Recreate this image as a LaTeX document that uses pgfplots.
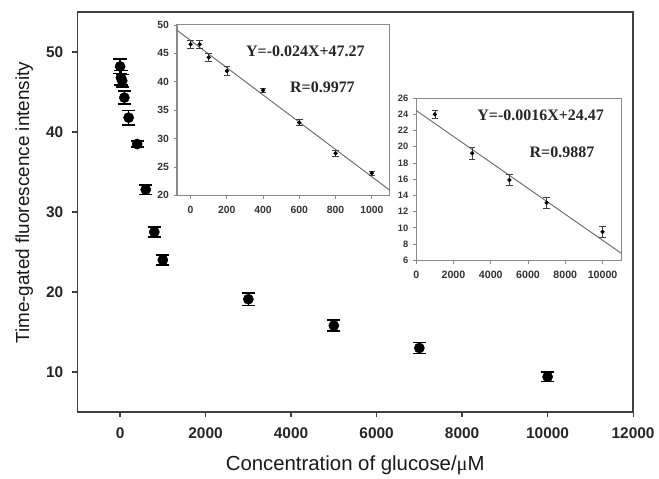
\documentclass[border=0pt]{standalone}
\usepackage{pgfplots}
\pgfplotsset{compat=1.18}
\usepackage{fontspec}
\setmainfont{Liberation Sans}
\newfontfamily\serif{Liberation Serif}
\definecolor{frame}{HTML}{404040}
\definecolor{iframe}{HTML}{8A8A8A}
\definecolor{fitline}{HTML}{6A6A6A}

\begin{document}
\begin{tikzpicture}[x=1pt,y=1pt]
\path (0,0) rectangle (494.25,354.75);
% main axis
\begin{axis}[at={(58.1pt,45.2pt)}, anchor=south west,
  width=417.6pt, height=300.5pt, scale only axis,
  xmin=-1000, xmax=12000, ymin=5, ymax=55,
  xtick={0,2000,...,12000}, ytick={10,20,...,50},
  scaled x ticks=false, scaled y ticks=false,
  /pgf/number format/1000 sep={}, /pgf/number format/assume math mode=true,
  tick pos=left, tick align=outside, major tick length=4pt,
  axis line style={frame, line width=1.1pt},
  major tick style={frame, line width=0.9pt},
  ticklabel style={font=\bfseries\fontsize{11.6}{13}\selectfont, text=black!85},
  xticklabel style={yshift=-4pt},
  yticklabel style={xshift=-3pt},
  xlabel={Concentration of glucose/{\serif μ}M},
  ylabel={Time-gated fluorescence intensity},
  label style={font=\fontsize{14.2}{16}\selectfont, text=black!90},
  xlabel style={yshift=-6pt, font=\fontsize{15.3}{17}\selectfont},
  ylabel style={yshift=3pt, xshift=7pt},
]
\addplot[only marks, mark=*, mark size=3.8pt, black,
  error bars/.cd, y dir=both, y explicit,
  error bar style={line width=1.2pt, black},
  error mark options={rotate=90, line width=1.2pt, mark size=5pt, black}]
  table[x=x, y=y, y error=e] {
x y e
0 48.2 0.9
20 46.8 0.9
50 46.4 0.8
100 44.3 0.8
200 41.8 0.9
400 38.5 0.35
600 32.8 0.6
800 27.5 0.6
1000 24.0 0.6
3000 19.1 0.8
5000 15.8 0.7
7000 13.0 0.7
10000 9.4 0.6
};
\end{axis}
% inset 1
\begin{axis}[at={(133pt,208pt)}, anchor=south west,
  width=160pt, height=128pt, scale only axis,
  xmin=-75, xmax=1100, ymin=20, ymax=50,
  xtick={0,200,...,1000}, ytick={20,25,...,50},
  scaled x ticks=false,
  /pgf/number format/1000 sep={}, /pgf/number format/assume math mode=true,
  axis background/.style={fill=white},
  tick pos=left, tick align=outside, major tick length=2.5pt,
  axis line style={iframe, line width=0.8pt},
  major tick style={iframe, line width=0.6pt},
  ticklabel style={font=\bfseries\fontsize{7.8}{9}\selectfont, text=black!80},
  xticklabel style={yshift=-2pt},
]
\addplot[fitline, line width=0.7pt] coordinates {(-75,49.07) (1100,20.87)};
\addplot[only marks, mark=*, mark size=1.4pt, black,
  error bars/.cd, y dir=both, y explicit,
  error bar style={line width=0.5pt, black!75},
  error mark options={rotate=90, line width=0.5pt, mark size=2.5pt, black!75}]
  table[x=x, y=y, y error=e] {
x y e
0 46.6 0.75
50 46.6 0.7
100 44.3 0.7
200 41.9 0.8
400 38.5 0.35
600 32.8 0.5
800 27.4 0.6
1000 23.9 0.4
};
\node[font=\serif\bfseries\fontsize{12}{14}\selectfont, text=black!85] at (rel axis cs:0.603,0.844) {Y=-0.024X+47.27};
\node[font=\serif\bfseries\fontsize{12}{14}\selectfont, text=black!85] at (rel axis cs:0.683,0.635) {R=0.9977};
\end{axis}
% inset 2
\begin{axis}[at={(312.75pt,159.2pt)}, anchor=south west,
  width=154pt, height=121.8pt, scale only axis,
  xmin=0, xmax=11000, ymin=6, ymax=26,
  xtick={0,2000,...,10000}, ytick={6,8,...,26},
  scaled x ticks=false,
  /pgf/number format/1000 sep={}, /pgf/number format/assume math mode=true,
  axis background/.style={fill=white},
  tick pos=left, tick align=outside, major tick length=2.5pt,
  axis line style={iframe, line width=0.8pt},
  major tick style={iframe, line width=0.6pt},
  ticklabel style={font=\bfseries\fontsize{7}{8}\selectfont, text=black!80},
  xticklabel style={yshift=-2pt, font=\bfseries\fontsize{8}{9}\selectfont},
]
\addplot[fitline, line width=0.7pt] coordinates {(0,24.47) (11000,6.87)};
\addplot[only marks, mark=*, mark size=1.4pt, black,
  error bars/.cd, y dir=both, y explicit,
  error bar style={line width=0.5pt, black!75},
  error mark options={rotate=90, line width=0.5pt, mark size=2.5pt, black!75}]
  table[x=x, y=y, y error=e] {
x y e
1000 24.0 0.5
3000 19.2 0.7
5000 15.9 0.7
7000 13.1 0.7
10000 9.5 0.65
};
\node[font=\serif\bfseries\fontsize{12}{14}\selectfont, text=black!85] at (rel axis cs:0.607,0.893) {Y=-0.0016X+24.47};
\node[font=\serif\bfseries\fontsize{12}{14}\selectfont, text=black!85] at (rel axis cs:0.711,0.667) {R=0.9887};
\end{axis}
\end{tikzpicture}
\end{document}
